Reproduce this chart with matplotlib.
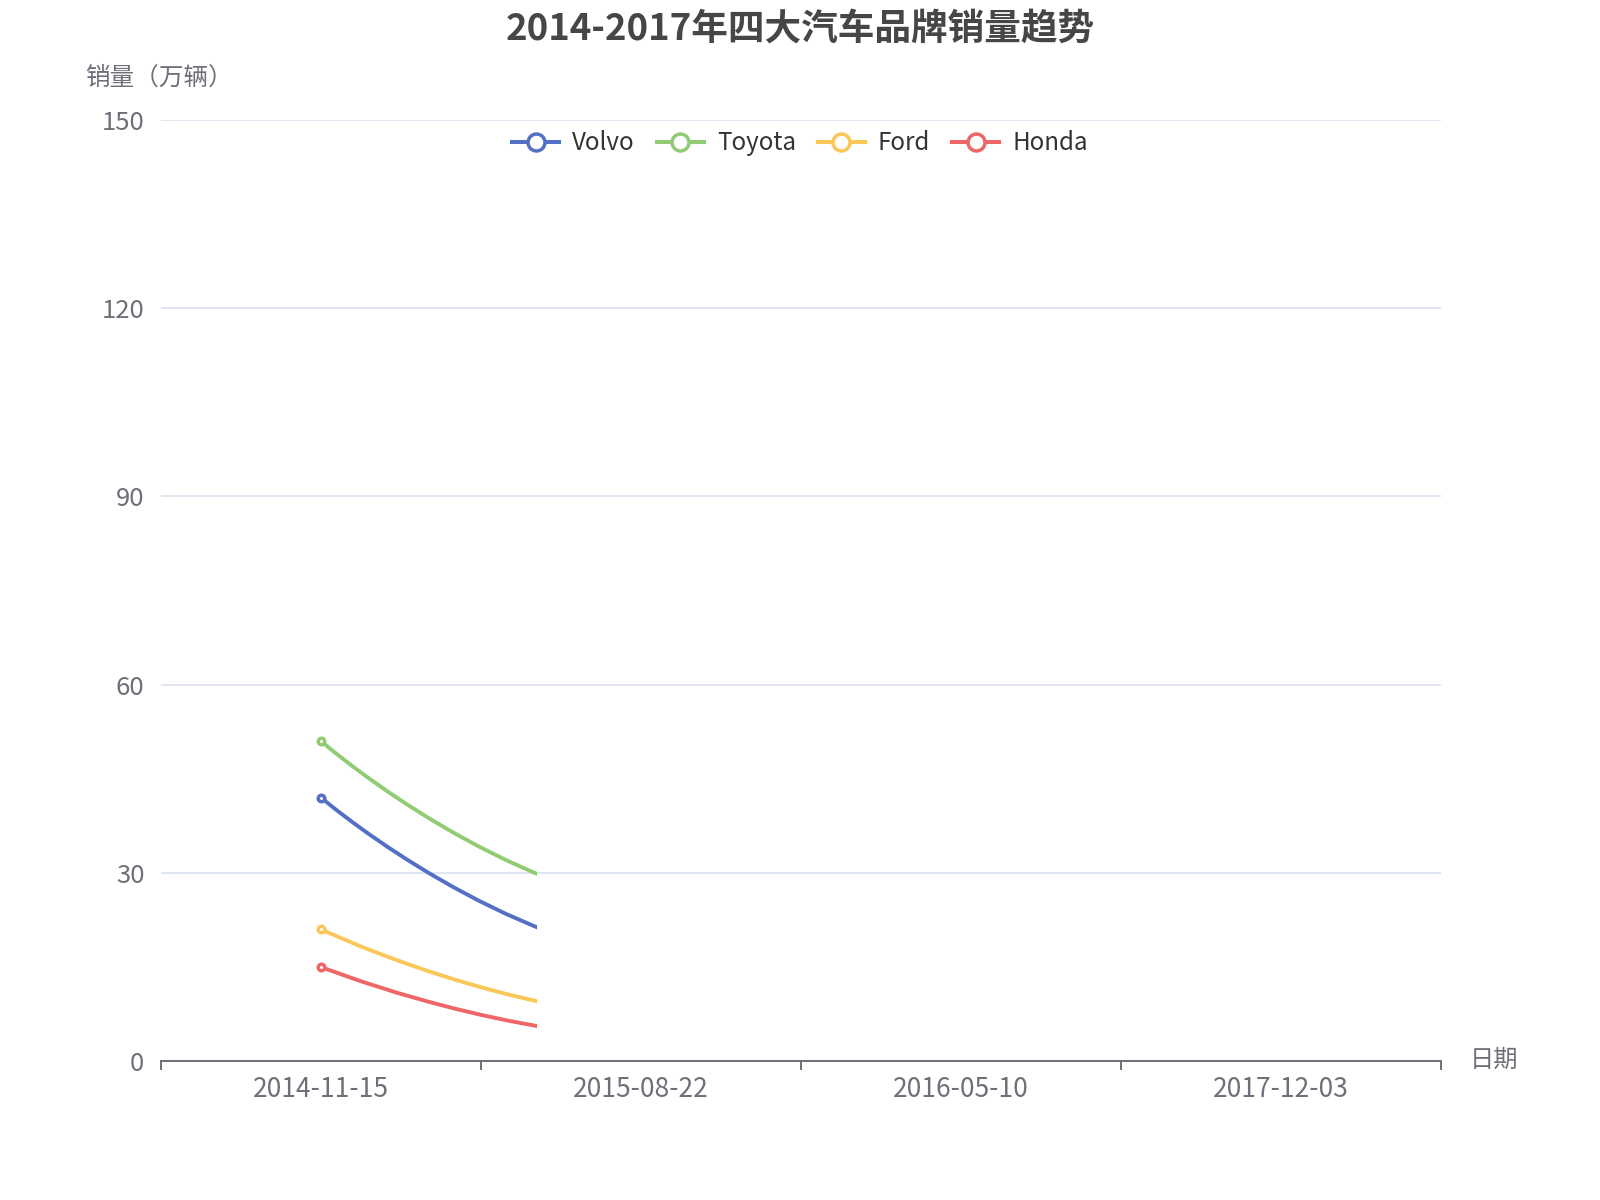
import math
import matplotlib
matplotlib.use('Agg')
import matplotlib.pyplot as plt
from matplotlib.path import Path
from matplotlib.patches import PathPatch, Rectangle
from matplotlib.lines import Line2D

plt.rcParams['font.family'] = ['Noto Sans CJK SC', 'DejaVu Sans']

dates = ['2014-11-15', '2015-08-22', '2016-05-10', '2017-12-03']
brands = ['Volvo', 'Toyota', 'Ford', 'Honda']
volvo = [42, 16.4, 12, 20]
toyota = [51, 24.7, 20, 30]
ford = [21, 7.0, 5, 8]
honda = [15, 3.7, 2.5, 4]
colors = ['#5470c6', '#91cc75', '#fac858', '#ee6666']

# the chart was captured while the entrance animation was still running
anim_progress = 0.294


def smooth_path(xs, ys, sx, sy, smooth=0.5):
    # echarts style smoothed line, control points worked out in pixel space
    pts = [(x * sx, y * sy) for x, y in zip(xs, ys)]
    verts = [pts[0]]
    codes = [Path.MOVETO]
    cp0 = pts[0]
    for k in range(1, len(pts)):
        x, y = pts[k]
        px, py = pts[k - 1]
        if k + 1 < len(pts):
            nx, ny = pts[k + 1]
            vx, vy = nx - px, ny - py
            l0 = math.hypot(x - px, y - py)
            l1 = math.hypot(nx - x, ny - y)
            r = l1 / (l0 + l1)
            ncx, ncy = x + vx * smooth * r, y + vy * smooth * r
            ncx = max(min(ncx, max(nx, x)), min(nx, x))
            ncy = max(min(ncy, max(ny, y)), min(ny, y))
            c1x = x - (ncx - x) * l0 / l1
            c1y = y - (ncy - y) * l0 / l1
            c1x = max(min(c1x, max(px, x)), min(px, x))
            c1y = max(min(c1y, max(py, y)), min(py, y))
            ncx = x + (x - c1x) * l1 / l0
            ncy = y + (y - c1y) * l1 / l0
        else:
            c1x, c1y = x, y
            ncx, ncy = x, y
        verts += [cp0, (c1x, c1y), (x, y)]
        codes += [Path.CURVE4] * 3
        cp0 = (ncx, ncy)
    return Path([(a / sx, b / sy) for a, b in verts], codes)


fig = plt.figure(figsize=(16, 12), dpi=100)
ax_left, ax_bottom, ax_w, ax_h = 161, 139, 1280, 941
ax = fig.add_axes([ax_left / 1600, ax_bottom / 1200, ax_w / 1600, ax_h / 1200])
ax.set_xlim(0, len(dates))
ax.set_ylim(0, 150)

xs = [i + 0.5 for i in range(len(dates))]
sx = ax_w / len(dates)
sy = ax_h / 150

clip = Rectangle((-0.3, -10), 0.3 + anim_progress * len(dates), 170,
                 transform=ax.transData)

for vals, c in zip([volvo, toyota, ford, honda], colors):
    patch = PathPatch(smooth_path(xs, vals, sx, sy), facecolor='none',
                      edgecolor=c, lw=2.8, capstyle='butt', joinstyle='round',
                      zorder=3)
    ax.add_patch(patch)
    patch.set_clip_path(clip)
    ax.plot(xs[0], vals[0], 'o', ms=4.7, mfc='white', mec=c, mew=2.5,
            zorder=4, clip_on=False)

ax.set_xticks(xs, dates)
ax.set_xticks(range(len(dates) + 1), minor=True)
ax.tick_params(axis='x', which='major', length=0, pad=10.5, labelsize=19,
               labelcolor='#6e7079')
ax.tick_params(axis='x', which='minor', length=6.5, width=1.4,
               color='#6e7079', direction='out')
ax.set_yticks(range(0, 151, 30))
ax.tick_params(axis='y', length=0, pad=12, labelsize=18.5, labelcolor='#6e7079')
ax.yaxis.grid(True, color='#e0e6f1', lw=1.4)
ax.set_axisbelow(True)
for s in ['top', 'right', 'left']:
    ax.spines[s].set_visible(False)
ax.spines['bottom'].set_color('#6e7079')
ax.spines['bottom'].set_linewidth(1.4)
ax.spines['bottom'].set_zorder(5)

fig.text(0.5, 1 - 29 / 1200, '2014-2017年四大汽车品牌销量趋势', ha='center',
         va='center', fontsize=26.4, fontweight='bold', color='#464646')
fig.text(159 / 1600, 1 - 78 / 1200, '销量（万辆）', ha='center', va='center',
         fontsize=17.7, color='#6e7079')
fig.text(1470 / 1600, 1 - 1060 / 1200, '日期', ha='left', va='center',
         fontsize=17.5, color='#6e7079')

handles = [Line2D([], [], color=c, lw=2.9, marker='o', ms=12.2, mfc='white',
                  mec=c, mew=2.5) for c in colors]
fig.legend(handles, brands, loc='center', bbox_to_anchor=(800 / 1600, 1 - 143 / 1200),
           ncol=4, frameon=False, fontsize=17.4, handlelength=1.95,
           handletextpad=0.54, columnspacing=0.9, labelcolor='#333333',
           borderpad=0, borderaxespad=0)

fig.savefig('out.png', dpi=100)
